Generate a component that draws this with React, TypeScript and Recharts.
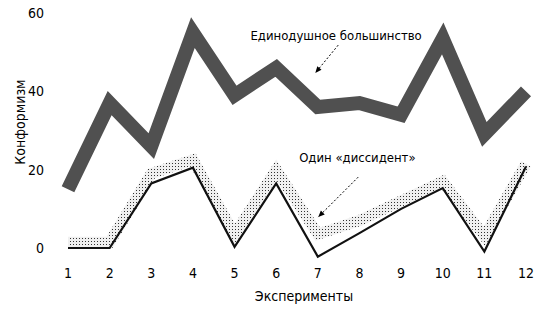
import React from "react";
import { LineChart, Line, XAxis, YAxis, ReferenceLine, ReferenceDot } from "recharts";

// Experiment numbers along the x axis
const experiments = [1, 2, 3, 4, 5, 6, 7, 8, 9, 10, 11, 12];
// Conformity with a unanimous majority
const majority = [15, 37, 26, 55, 39, 46, 36, 37, 34, 53.5, 29, 40];
// Conformity with one dissenter (solid line) and its shaded band
const dissident = [0, 0, 16.5, 20.5, 0.3, 16.5, -2.2, 3.8, 10, 15.3, -0.9, 20.8];
const dissidentBand = [1.5, 1.5, 19, 22.5, 3.5, 20, 3.5, 7, 12, 17, 3, 21.5];
const yTicks = [0, 20, 40, 60];

const data = experiments.map((e, i) => ({
  exp: e,
  majority: majority[i],
  dissident: dissident[i],
  band: dissidentBand[i],
}));

const FONT = "'Liberation Sans Narrow', 'Arial Narrow', 'DejaVu Sans Condensed', sans-serif";

const Arrow = (props: any) => {
  const { x1, y1, x2, y2 } = props;
  const ang = Math.atan2(y2 - y1, x2 - x1);
  const len = 7;
  const spread = 0.4;
  const p1 = `${x2},${y2}`;
  const p2 = `${x2 - len * Math.cos(ang - spread)},${y2 - len * Math.sin(ang - spread)}`;
  const p3 = `${x2 - len * Math.cos(ang + spread)},${y2 - len * Math.sin(ang + spread)}`;
  return (
    <g>
      <line x1={x1} y1={y1} x2={x2} y2={y2} stroke="#000" strokeWidth={1} strokeDasharray="2 2" />
      <polygon points={`${p1} ${p2} ${p3}`} fill="#000" />
    </g>
  );
};

export default function App() {
  return (
    <div style={{ position: "absolute", left: 0, top: 0, width: 551, height: 309, background: "#fff", fontFamily: FONT }}>
      <LineChart
        width={551}
        height={309}
        data={data}
        margin={{ top: 13, right: 25, bottom: 21.4, left: 0 }}
      >
        <defs>
          <pattern id="lightDots" width="3" height="3" patternUnits="userSpaceOnUse">
            <rect width="3" height="3" fill="#f0f0f0" />
            <rect x="1" y="1" width="1" height="1" fill="#333" />
          </pattern>
        </defs>
        <XAxis
          dataKey="exp"
          type="number"
          domain={[1, 12]}
          ticks={experiments}
          interval={0}
          axisLine={false}
          tickLine={false}
          tickSize={0}
          tickMargin={0}
          height={20}
          tick={{ fill: "#000", fontSize: 14, fontFamily: FONT }}
        />
        <YAxis
          type="number"
          domain={[-5, 60]}
          ticks={yTicks}
          interval={0}
          axisLine={false}
          tickLine={false}
          tickSize={0}
          tickMargin={24}
          width={68}
          tick={{ fill: "#000", fontSize: 14, fontFamily: FONT }}
        />
        <Line
          type="linear"
          dataKey="majority"
          stroke="#505050"
          strokeWidth={14}
          strokeLinejoin="miter"
          dot={false}
          isAnimationActive={false}
        />
        <Line
          type="linear"
          dataKey="band"
          stroke="url(#lightDots)"
          strokeWidth={11}
          strokeLinejoin="miter"
          dot={false}
          isAnimationActive={false}
        />
        <Line
          type="linear"
          dataKey="dissident"
          stroke="#111"
          strokeWidth={2.2}
          dot={false}
          isAnimationActive={false}
        />
        <ReferenceLine
          segment={[{ x: 7.49, y: 51.8 }, { x: 6.94, y: 44.7 }]}
          shape={Arrow}
        />
        <ReferenceLine
          segment={[{ x: 7.97, y: 18.1 }, { x: 7.01, y: 7.9 }]}
          shape={Arrow}
        />
        <ReferenceDot
          x={7.44}
          y={54.4}
          r={0}
          fill="none"
          stroke="none"
          label={{ value: "Единодушное большинство", position: "center", fill: "#000", fontSize: 13, fontFamily: FONT }}
        />
        <ReferenceDot
          x={7.95}
          y={23.2}
          r={0}
          fill="none"
          stroke="none"
          label={{ value: "Один «диссидент»", position: "center", fill: "#000", fontSize: 13, fontFamily: FONT }}
        />
      </LineChart>
      <div
        style={{
          position: "absolute",
          left: 20,
          top: 122,
          transform: "translate(-50%, -50%) rotate(-90deg)",
          fontSize: 14,
          whiteSpace: "nowrap",
          color: "#000",
        }}
      >
        Конформизм
      </div>
      <div
        style={{
          position: "absolute",
          left: 304,
          top: 296,
          transform: "translate(-50%, -50%)",
          fontSize: 14,
          whiteSpace: "nowrap",
          color: "#000",
        }}
      >
        Эксперименты
      </div>
    </div>
  );
}
